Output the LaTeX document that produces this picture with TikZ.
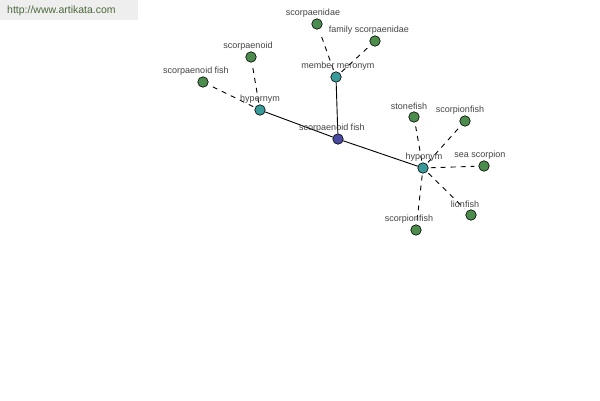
\documentclass[tikz,border=0pt]{standalone}
\usepackage{fontspec}
\setmainfont{Liberation Sans}
\definecolor{leafc}{HTML}{4C8C4C}
\definecolor{hubc}{HTML}{3A9A9A}
\definecolor{rootc}{HTML}{4A4AA0}
\definecolor{txtc}{HTML}{444444}
\definecolor{hdrbg}{HTML}{EEEEEE}
\definecolor{hdrtx}{HTML}{4A6A3A}
\begin{document}
\begin{tikzpicture}[x=1pt,y=-1pt,
  dot/.style={circle,draw=black,line width=0.6pt,minimum size=10.5pt,inner sep=0pt},
  leaf/.style={dot,fill=leafc},
  hub/.style={dot,fill=hubc},
  root/.style={dot,fill=rootc},
  lbl/.style={font=\fontsize{9}{10}\selectfont,text=txtc,inner sep=0pt},
  rel/.style={line width=0.9pt,black},
  dsh/.style={line width=0.9pt,black,dash pattern=on 5pt off 5pt,shorten <=2pt,shorten >=4pt}]
\useasboundingbox[fill=white] (0,0) rectangle (600,400);
\fill[hdrbg] (0,0) rectangle (138,20);
\node[font=\fontsize{10.5}{12}\selectfont,text=hdrtx,anchor=west,inner sep=0pt] (hdr) at (7,11) {http://www.artikata.com};
% nodes
\node[root] (nc) at (338,139) {};
\node[hub] (nhyp) at (260,110) {};
\node[hub] (nmm) at (336,77) {};
\node[hub] (nho) at (423,168) {};
\node[leaf] (n1) at (203,82) {};
\node[leaf] (n2) at (251,57) {};
\node[leaf] (n3) at (317,24) {};
\node[leaf] (n4) at (375,41) {};
\node[leaf] (n5) at (414,117) {};
\node[leaf] (n6) at (465,121) {};
\node[leaf] (n7) at (484,166) {};
\node[leaf] (n8) at (471,215) {};
\node[leaf] (n9) at (416,230) {};
% edges
\draw[rel] (nhyp) -- (nc);
\draw[rel] (nc) -- (nho);
\draw[rel] (nmm) -- (nc);
\draw[dsh] (nhyp) -- (n1);
\draw[dsh] (nhyp) -- (n2);
\draw[dsh] (nmm) -- (n3);
\draw[dsh] (nmm) -- (n4);
\draw[dsh] (nho) -- (n5);
\draw[dsh] (nho) -- (n6);
\draw[dsh] (nho) -- (n7);
\draw[dsh] (nho) -- (n8);
\draw[dsh] (nho) -- (n9);
% labels
\node[lbl] (t0) at (332,128) {scorpaenoid fish};
\node[lbl] (th) at (260,99) {hypernym};
\node[lbl] (tm) at (338,66) {member meronym};
\node[lbl] (to) at (424,157) {hyponym};
\node[lbl] (t1) at (196,71) {scorpaenoid fish};
\node[lbl] (t2) at (248,46) {scorpaenoid};
\node[lbl] (t3) at (313,13) {scorpaenidae};
\node[lbl] (t4) at (369,30) {family scorpaenidae};
\node[lbl] (t5) at (409,106) {stonefish};
\node[lbl] (t6) at (460,110) {scorpionfish};
\node[lbl] (t7) at (480,155) {sea scorpion};
\node[lbl] (t8) at (465,204) {lionfish};
\node[lbl] (t9) at (409,219) {scorpionfish};
\end{tikzpicture}
\end{document}
